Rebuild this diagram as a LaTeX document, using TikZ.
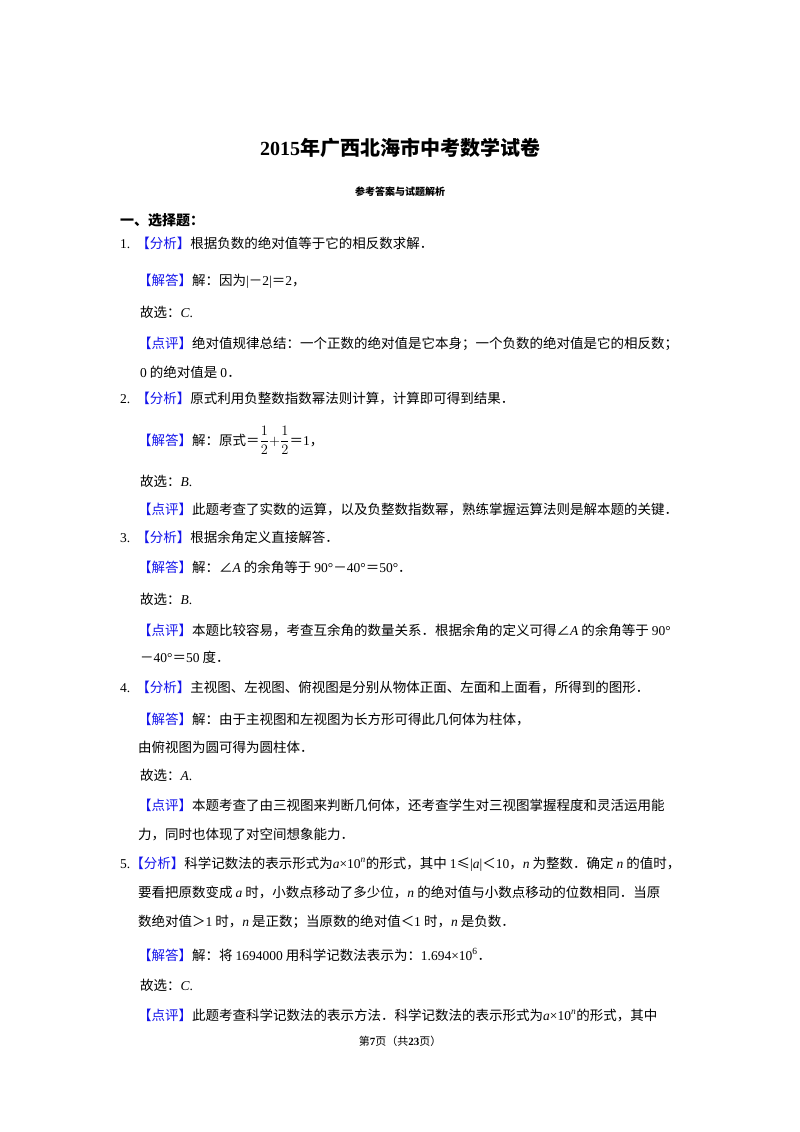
\documentclass[tikz,border=0pt]{standalone}
\usepackage{fontspec}
\setmainfont{Noto Sans CJK SC}
\newfontfamily\ser{Liberation Serif}
\newcommand{\e}[1]{{\ser #1}}
\newcommand{\ei}[1]{{\ser\itshape #1}}
\definecolor{tagblue}{RGB}{20,20,235}
\newcommand{\tg}[1]{\textcolor{tagblue}{【#1】}}
\begin{document}
\begin{tikzpicture}[x=1pt,y=-1pt,
  ln/.style={anchor=base west,inner sep=0pt,font=\fontsize{13.5}{16}\selectfont}]
\useasboundingbox[fill=white] (0,0) rectangle (800,1132);
\node[anchor=base,inner sep=0pt,font=\fontsize{20}{24}\selectfont\bfseries] (title) at (400,155) {\e{\bfseries 2015}年广西北海市中考数学试卷};
\node[anchor=base,inner sep=0pt,font=\fontsize{10}{12}\selectfont\bfseries] (sub) at (400,195) {参考答案与试题解析};
\node[ln,font=\fontsize{14}{16}\selectfont\bfseries] (h1) at (120,225) {一、选择题：};
\node[ln] (a1) at (120,248) {\e{1.}\hspace{6pt}\tg{分析}根据负数的绝对值等于它的相反数求解．};
\node[ln] (a2) at (138,285) {\tg{解答}解：因为\e{|}－\e{2|}＝\e{2}，};
\node[ln] (a3) at (140,317) {故选：\ei{C}\e{.}};
\node[ln] (a4) at (138,348) {\tg{点评}绝对值规律总结：一个正数的绝对值是它本身；一个负数的绝对值是它的相反数；};
\node[ln] (a5) at (140,377) {\e{0} 的绝对值是 \e{0}．};
\node[ln] (b1) at (120,403) {\e{2.}\hspace{6pt}\tg{分析}原式利用负整数指数幂法则计算，计算即可得到结果．};
\node[ln] (b2) at (138,445) {\tg{解答}解：原式＝$\displaystyle\frac{1}{2}{+}\frac{1}{2}$＝\e{1}，};
\node[ln] (b3) at (140,486) {故选：\ei{B}\e{.}};
\node[ln] (b4) at (138,514) {\tg{点评}此题考查了实数的运算，以及负整数指数幂，熟练掌握运算法则是解本题的关键．};
\node[ln] (c1) at (120,542) {\e{3.}\hspace{6pt}\tg{分析}根据余角定义直接解答．};
\node[ln] (c2) at (138,572) {\tg{解答}解：∠\ei{A} 的余角等于 \e{90°}－\e{40°}＝\e{50°}．};
\node[ln] (c3) at (140,604) {故选：\ei{B}\e{.}};
\node[ln] (c4) at (138,635) {\tg{点评}本题比较容易，考查互余角的数量关系．根据余角的定义可得∠\ei{A} 的余角等于 \e{90°}};
\node[ln] (c5) at (140,662) {－\e{40°}＝\e{50} 度．};
\node[ln] (d1) at (120,692) {\e{4.}\hspace{6pt}\tg{分析}主视图、左视图、俯视图是分别从物体正面、左面和上面看，所得到的图形．};
\node[ln] (d2) at (138,724) {\tg{解答}解：由于主视图和左视图为长方形可得此几何体为柱体，};
\node[ln] (d3) at (138,752) {由俯视图为圆可得为圆柱体．};
\node[ln] (d4) at (140,780) {故选：\ei{A}\e{.}};
\node[ln] (d5) at (138,810) {\tg{点评}本题考查了由三视图来判断几何体，还考查学生对三视图掌握程度和灵活运用能};
\node[ln] (d6) at (138,839) {力，同时也体现了对空间想象能力．};
\node[ln] (e1) at (120,868) {\e{5.}\tg{分析}科学记数法的表示形式为\e{\textit{a}×10\textsuperscript{\textit{n}}}的形式，其中 \e{1}≤\e{|\textit{a}|}＜\e{10}，\ei{n} 为整数．确定 \ei{n} 的值时，};
\node[ln] (e2) at (138,897) {要看把原数变成 \ei{a} 时，小数点移动了多少位，\ei{n} 的绝对值与小数点移动的位数相同．当原};
\node[ln] (e3) at (138,926) {数绝对值＞\e{1} 时，\ei{n} 是正数；当原数的绝对值＜\e{1} 时，\ei{n} 是负数．};
\node[ln] (e4) at (138,960) {\tg{解答}解：将 \e{1694000} 用科学记数法表示为：\e{1.694×10\textsuperscript{6}}．};
\node[ln] (e5) at (140,990) {故选：\ei{C}\e{.}};
\node[ln] (e6) at (138,1020) {\tg{点评}此题考查科学记数法的表示方法．科学记数法的表示形式为\e{\textit{a}×10\textsuperscript{\textit{n}}}的形式，其中};
\node[anchor=base,inner sep=0pt,font=\fontsize{11}{13}\selectfont] (foot) at (400,1045) {第\e{\bfseries 7}页（共\e{\bfseries 23}页）};
\end{tikzpicture}
\end{document}
